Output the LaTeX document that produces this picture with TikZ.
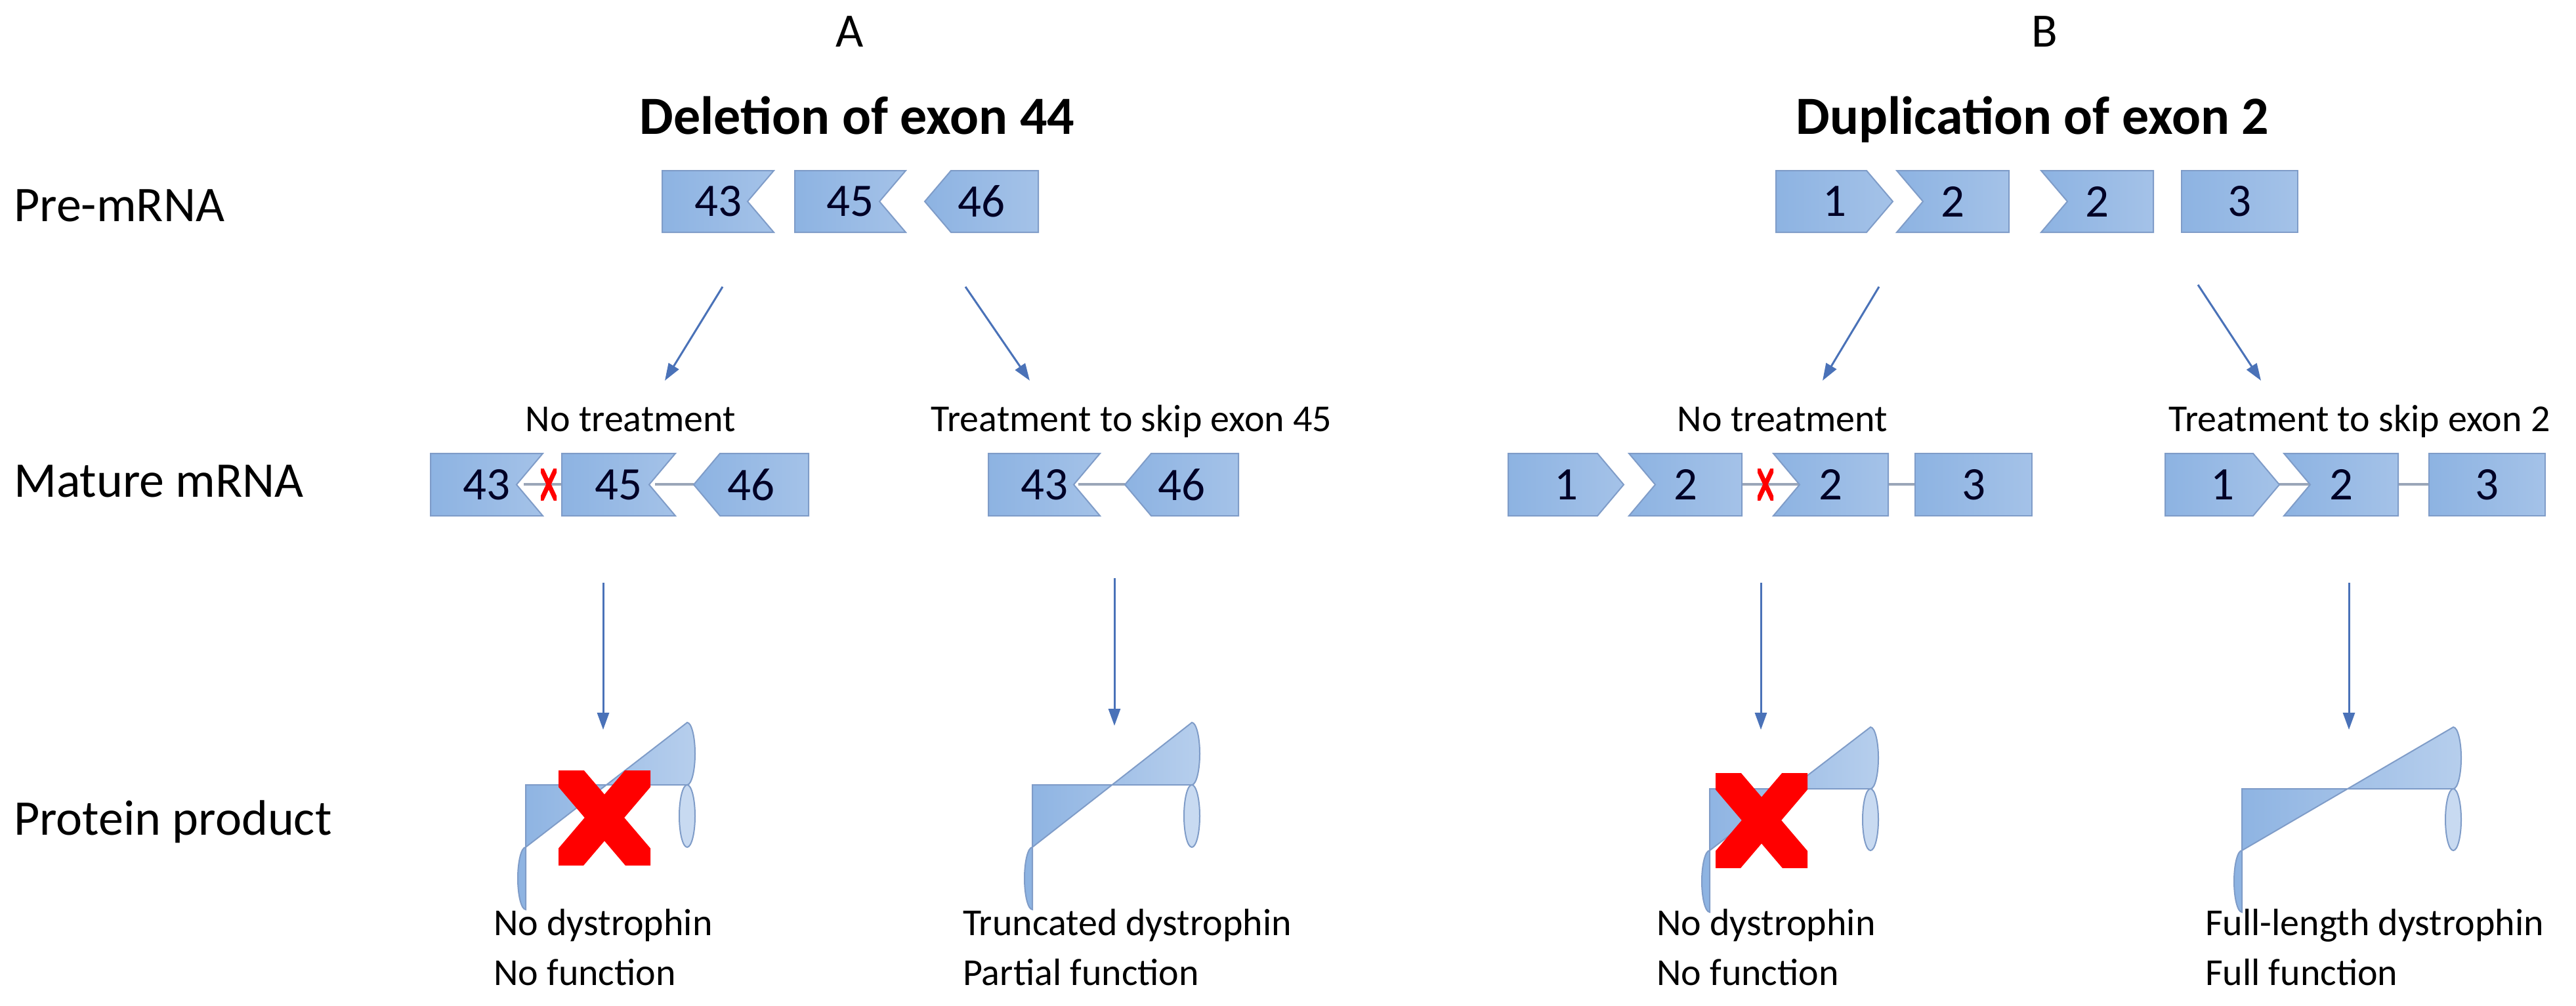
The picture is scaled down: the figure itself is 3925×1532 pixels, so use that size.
\documentclass[tikz,border=0pt]{standalone}
\usepackage{fontspec}
\setmainfont{Carlito}
\usetikzlibrary{arrows.meta}
\definecolor{exfill}{HTML}{A4C2E8}
\definecolor{exfillB}{HTML}{8DB3E2}
\definecolor{exline}{HTML}{7F9CC8}
\definecolor{arr}{HTML}{4A72B8}
\definecolor{intron}{HTML}{9AA6B8}
\newcommand\exonbox[8]{%
 \pgfmathsetmacro\ymid{(#6+#7)/2}%
 \ifcase#4 \def\exLc{0}\def\exLm{0}\or\def\exLc{40}\def\exLm{0}\or\def\exLc{0}\def\exLm{40}\fi
 \ifcase#5 \def\exRc{0}\def\exRm{0}\or\def\exRc{40}\def\exRm{0}\or\def\exRc{0}\def\exRm{40}\fi
 \path[exon] (#2+\exLc,#6) -- (#3-\exRc,#6) -- (#3-\exRm,\ymid) -- (#3-\exRc,#7) -- (#2+\exLc,#7) -- (#2+\exLm,\ymid) -- cycle;
 \node[exnum] (#1) at ({(#2+#3)/2},\ymid) {#8};}
\newcommand\cyl[5]{% name x1 x2 yt yb
 \pgfmathsetmacro\ymid{(#4+#5)/2}\pgfmathsetmacro\hh{(#5-#4)/2}%
 \path[cylbody] (#2+12,#4) -- (#3-12,#4) arc[start angle=90,end angle=-90,x radius=12,y radius=\hh] -- (#2+12,#5) arc[start angle=270,end angle=90,x radius=12,y radius=\hh] -- cycle;
 \path[cylend] (#3-12,\ymid) ellipse[x radius=12,y radius=\hh];
 \coordinate (#1) at ({(#2+#3)/2},\ymid);}
\newcommand\bigX[3]{% cx cy name
 \begin{scope}
 \clip (#1-70,#2-72) rectangle (#1+70,#2+72);
 \draw[red,line width=46] (#1-75,#2-88) -- (#1+75,#2+88);
 \draw[red,line width=46] (#1+75,#2-88) -- (#1-75,#2+88);
 \end{scope}
 \coordinate (#3) at (#1,#2);}
\newcommand\smallX[3]{%
 \begin{scope}
 \clip (#1-12,#2-24) rectangle (#1+12,#2+24);
 \draw[red,line width=7] (#1-14,#2-30) -- (#1+14,#2+30);
 \draw[red,line width=7] (#1+14,#2-30) -- (#1-14,#2+30);
 \end{scope}
 \coordinate (#3) at (#1,#2);}
\begin{document}
\begin{tikzpicture}[x=1pt,y=-1pt,
 exon/.style={left color=exfillB,right color=exfill,draw=exline,line width=2},
 exnum/.style={font=\fontsize{71}{80}\selectfont,text=black!85!blue},
 cylbody/.style={left color=exfillB,right color=exfill!80!white,draw=exline,line width=2},
 cylend/.style={fill=exfill!60!white,draw=exline,line width=2},
 lab/.style={font=\fontsize{76}{90}\selectfont,anchor=base west,inner sep=0},
 small/.style={font=\fontsize{58}{76}\selectfont,inner sep=0},
 ttl/.style={font=\fontsize{82}{90}\selectfont\bfseries,anchor=base,inner sep=0},
 arw/.style={draw=arr,line width=3,-{Triangle[length=26,width=18]}},
 intr/.style={draw=intron,line width=4}]
\useasboundingbox (0,0) rectangle (3925,1532);
\fill[white] (0,0) rectangle (3925,1532);
% headings
\node[font=\fontsize{73}{80}\selectfont,anchor=base,inner sep=0] (hA) at (1295,71) {A};
\node[font=\fontsize{73}{80}\selectfont,anchor=base,inner sep=0] (hB) at (3115,71) {B};
\node[ttl] (tA) at (1306,204) {Deletion of exon 44};
\node[ttl] (tB) at (3097,204) {Duplication of exon 2};
\node[lab] (l1) at (21,337) {Pre-mRNA};
\node[lab] (l2) at (21,757) {Mature mRNA};
\node[lab] (l3) at (21,1272) {Protein product};
% pre-mRNA A
\exonbox{pa43}{1009}{1179}{0}{2}{260}{354}{43}
\exonbox{pa45}{1211}{1380}{0}{2}{260}{354}{45}
\exonbox{pa46}{1409}{1582}{1}{0}{260}{354}{46}
% pre-mRNA B
\exonbox{pb1}{2706}{2884}{0}{1}{260}{354}{1}
\exonbox{pb2}{2890}{3061}{2}{0}{260}{354}{2}
\exonbox{pb2b}{3110}{3281}{2}{0}{260}{354}{2}
\exonbox{pb3}{3324}{3501}{0}{0}{260}{354}{3}
% arrows pre -> mature
\coordinate (a1s) at (1101,437); \coordinate (a1e) at (1013,580);
\coordinate (a2s) at (1471,437); \coordinate (a2e) at (1569,580);
\coordinate (b1s) at (2863,437); \coordinate (b1e) at (2777,580);
\coordinate (b2s) at (3349,434); \coordinate (b2e) at (3445,580);
\draw[arw] (a1s) -- (a1e);
\draw[arw] (a2s) -- (a2e);
\draw[arw] (b1s) -- (b1e);
\draw[arw] (b2s) -- (b2e);
% condition labels
\node[small,anchor=base] (cA1) at (961,657) {No treatment};
\node[small,anchor=base] (cA2) at (1724,657) {Treatment to skip exon 45};
\node[small,anchor=base] (cB1) at (2716,657) {No treatment};
\node[small,anchor=base] (cB2) at (3595,657) {Treatment to skip exon 2};
% mature mRNA A, no treatment
\draw[intr] (998,738) -- (1057,738);
\draw[intr] (798,738) -- (856,738);
\exonbox{ma43}{656}{827}{0}{2}{691}{786}{43}
\exonbox{ma45}{856}{1029}{0}{2}{691}{786}{45}
\exonbox{ma46}{1057}{1232}{1}{0}{691}{786}{46}
\smallX{836}{738}{xa}
% mature A, treated
\draw[intr] (1643,738) -- (1714,738);
\exonbox{mt43}{1506}{1676}{0}{2}{691}{786}{43}
\exonbox{mt46}{1714}{1887}{1}{0}{691}{786}{46}
% mature B, no treatment
\draw[intr] (2640,738) -- (2742,738);
\draw[intr] (2870,738) -- (2920,738);
\exonbox{mb1}{2298}{2474}{0}{1}{691}{786}{1}
\exonbox{mb2}{2482}{2654}{2}{0}{691}{786}{2}
\exonbox{mb2b}{2702}{2877}{2}{0}{691}{786}{2}
\exonbox{mb3}{2918}{3096}{0}{0}{691}{786}{3}
\smallX{2690}{738}{xb}
% mature B, treated
\draw[intr] (3470,738) -- (3525,738);
\draw[intr] (3650,738) -- (3705,738);
\exonbox{mu1}{3299}{3473}{0}{1}{691}{786}{1}
\exonbox{mu2}{3480}{3654}{2}{0}{691}{786}{2}
\exonbox{mu3}{3701}{3878}{0}{0}{691}{786}{3}
% vertical arrows
\coordinate (v1s) at (919,888); \coordinate (v1e) at (919,1112);
\coordinate (v2s) at (1698,881); \coordinate (v2e) at (1698,1106);
\coordinate (v3s) at (2683,888); \coordinate (v3e) at (2683,1112);
\coordinate (v4s) at (3579,888); \coordinate (v4e) at (3579,1112);
\draw[arw] (v1s) -- (v1e);
\draw[arw] (v2s) -- (v2e);
\draw[arw] (v3s) -- (v3e);
\draw[arw] (v4s) -- (v4e);
% proteins
\cyl{cy1}{789}{1059}{1196}{1291}
\cyl{cy2}{1561}{1828}{1196}{1291}
\cyl{cy3}{2593}{2862}{1202}{1296}
\cyl{cy4}{3404}{3750}{1202}{1296}
\bigX{921}{1246}{X1}
\bigX{2684}{1250}{X2}
% result texts
\node[small,anchor=base west,align=left] (r1) at (752,1425) {No dystrophin};
\node[small,anchor=base west] (r1b) at (752,1501) {No function};
\node[small,anchor=base west] (r2) at (1467,1425) {Truncated dystrophin};
\node[small,anchor=base west] (r2b) at (1467,1501) {Partial function};
\node[small,anchor=base west] (r3) at (2524,1425) {No dystrophin};
\node[small,anchor=base west] (r3b) at (2524,1501) {No function};
\node[small,anchor=base west] (r4) at (3360,1425) {Full-length dystrophin};
\node[small,anchor=base west] (r4b) at (3360,1501) {Full function};
\end{tikzpicture}
\end{document}
